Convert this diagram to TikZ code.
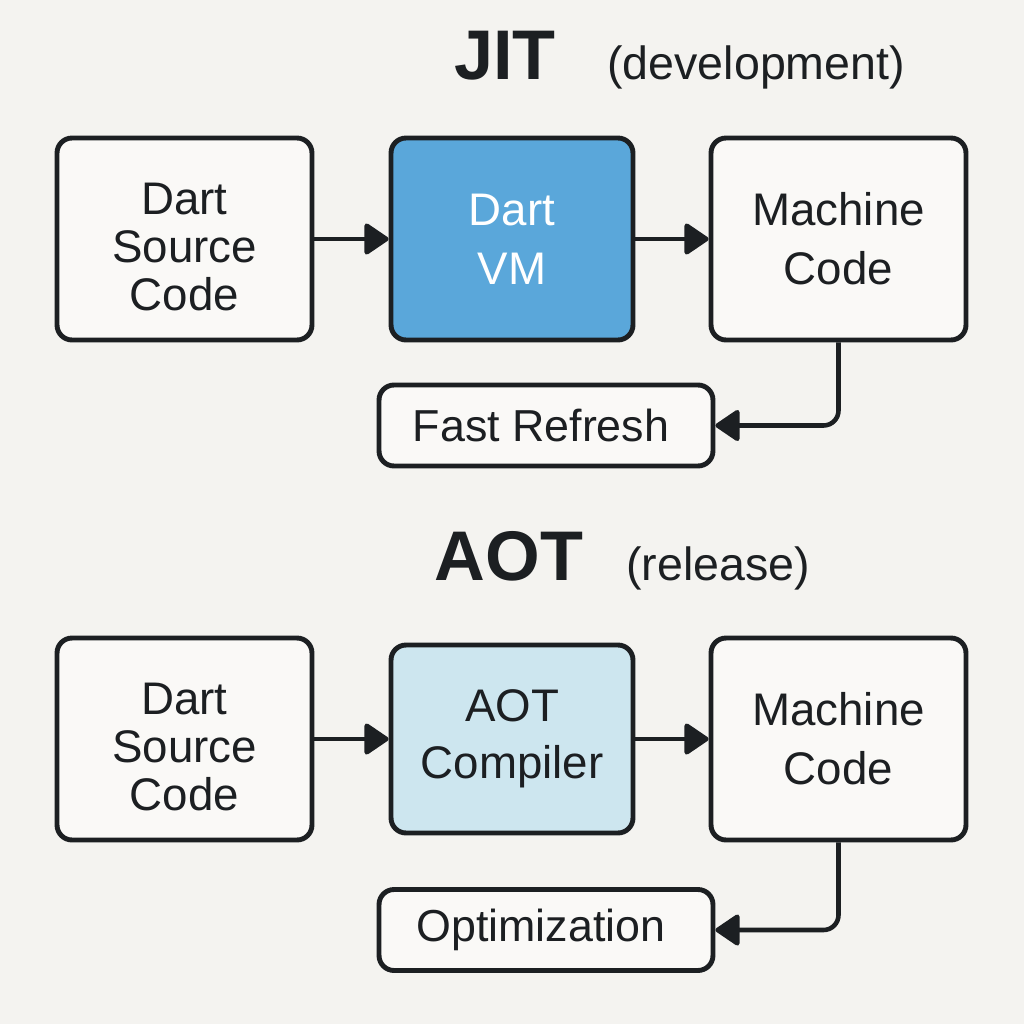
\documentclass[tikz,border=0pt]{standalone}
\usepackage{fontspec}
\setmainfont{Liberation Sans}
\usetikzlibrary{arrows.meta}
\definecolor{bgc}{HTML}{F4F3F0}
\definecolor{ink}{HTML}{1C1F22}
\definecolor{boxfill}{HTML}{FAF9F7}
\definecolor{vmblue}{HTML}{5AA7DA}
\definecolor{aotblue}{HTML}{CDE6EF}
\tikzset{
  box/.style={draw=ink, line width=2.8pt, rounded corners=0.3cm, fill=boxfill,
    text=ink, align=center, font=\fontsize{26}{28}\selectfont,
    minimum width=5.1cm, minimum height=4.04cm, inner sep=0pt},
  midbox/.style={box, minimum width=4.84cm},
  smallbox/.style={box, minimum width=6.68cm, minimum height=1.62cm,
    font=\fontsize{25.5}{28}\selectfont},
  arr/.style={draw=ink, line width=2.6pt,
    -{Triangle[length=0.52cm, width=0.68cm, round]}},
  bigtitle/.style={anchor=base, text=ink, font=\bfseries\fontsize{40}{44}\selectfont, inner sep=0pt},
  subtitle/.style={anchor=base west, text=ink, font=\fontsize{26.5}{30}\selectfont, inner sep=0pt},
}
% three-line label with a little extra room above its first line
\newcommand{\srclabel}{\rule{0pt}{0.95cm}Dart\\[-0.02cm]Source\\[-0.02cm]Code}
\begin{document}
\begin{tikzpicture}[x=0.02cm, y=-0.02cm]
  \fill[bgc] (0,0) rectangle (1024,1024);
  \useasboundingbox (0,0) rectangle (1024,1024);

  % JIT pipeline
  \node[bigtitle] (jit) at (505,80) {JIT};
  \node[subtitle] (jitsub) at (607,80) {(development)};

  \node[box] (src1) at (184.5,239) {\srclabel};
  \node[midbox, fill=vmblue, text=white] (vm) at (512,239) {Dart\\[0.2cm]VM};
  \node[box] (mc1) at (838.5,239) {Machine\\[0.2cm]Code};
  \node[smallbox] (fr) at (546,425.5) {Fast Refresh\hspace{0.2cm}};

  \draw[arr] (src1.east) -- (vm.west);
  \draw[arr] (vm.east) -- (mc1.west);
  \draw[arr, rounded corners=0.3cm] (mc1.south) |- (fr.east);

  % AOT pipeline
  \node[bigtitle] (aot) at (509,580) {AOT};
  \node[subtitle] (aotsub) at (626,580) {(release)};

  \node[box] (src2) at (184.5,739) {\srclabel};
  \node[midbox, fill=aotblue, minimum height=3.76cm] (comp) at (512,739) {AOT\\[0.15cm]Compiler};
  \node[box] (mc2) at (838.5,739) {Machine\\[0.2cm]Code};
  \node[smallbox] (opt) at (546,930) {Optimization\hspace{0.2cm}};

  \draw[arr] (src2.east) -- (comp.west);
  \draw[arr] (comp.east) -- (mc2.west);
  \draw[arr, rounded corners=0.3cm] (mc2.south) |- (opt.east);
\end{tikzpicture}
\end{document}
